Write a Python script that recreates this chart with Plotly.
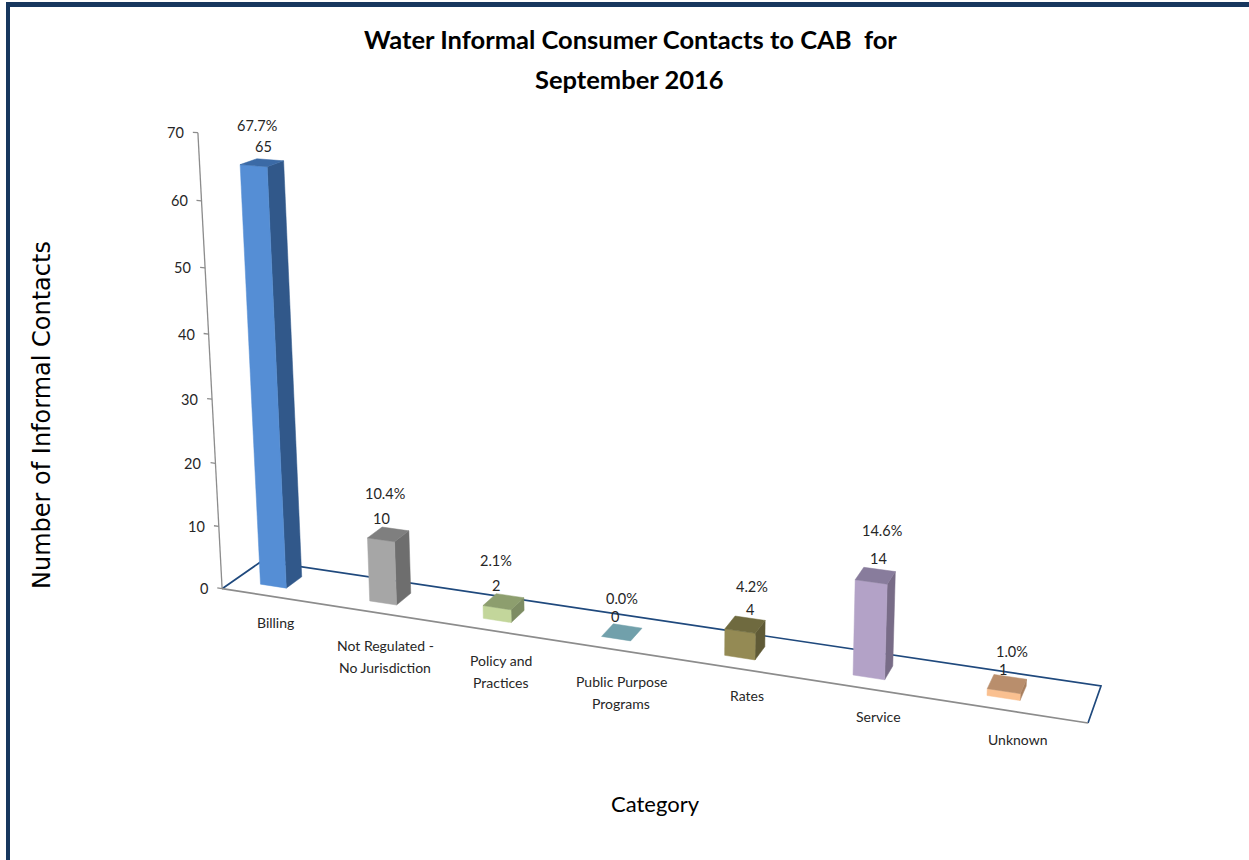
import numpy as np
import plotly.graph_objects as go

# ---- data ----
categories = ["Billing", "Not Regulated -<br>No Jurisdiction", "Policy and<br>Practices",
              "Public Purpose<br>Programs", "Rates", "Service", "Unknown"]
contacts = [65, 10, 2, 0, 4, 14, 1]
percent_labels = ["67.7%", "10.4%", "2.1%", "0.0%", "4.2%", "14.6%", "1.0%"]
y_ticks = [0, 10, 20, 30, 40, 50, 60, 70]

# ---- styling ----
front_colors = ["#558ed5", "#a6a6a6", "#c3d69b", "#71a0ab", "#948a54", "#b3a2c7", "#fac090"]
side_colors = ["#31588a", "#6e6e6e", "#7d8c63", "#71a0ab", "#5f5a36", "#786c87", "#a87f5f"]
top_colors = ["#3b6aa6", "#7f7f7f", "#8d9e6e", "#71a0ab", "#6f6a3f", "#887c9c", "#b98e6c"]
NAVY = "#1f497d"
FRAME = "#17375e"
GRAY = "#8c8c8c"
TXT = "#262626"
FONT = "Lato"

# ---- camera: (category position, depth, value) -> picture, solved from the chart box ----
calib_world = [(0, 0, 0), (7, 0, 0), (7, 1, 0), (0, 1, 0), (0, 0, 10), (0, 0, 20), (0, 0, 30),
               (0, 0, 40), (0, 0, 50), (0, 0, 60), (0, 0, 70)]
calib_view = [(222, 588), (1088, 723), (1101, 686), (262, 561), (219, 527), (215.5, 464), (212, 399),
              (208.5, 334), (205, 267), (201.5, 201), (198, 133)]


def solve_camera():
    rows = []
    for (u, d, h), (px, py) in zip(calib_world, calib_view):
        w = [u / 7, d, h / 70, 1]
        sx, sy = px / 1000, py / 1000
        rows.append(w + [0, 0, 0, 0] + [-sx * c for c in w])
        rows.append([0, 0, 0, 0] + w + [-sy * c for c in w])
    return np.linalg.svd(np.array(rows))[2][-1].reshape(3, 4)


CAM = solve_camera()


def project(u, d, h):
    a, b, c = CAM @ np.array([u / 7, d, h / 70, 1.0])
    return 1000 * a / c, 1000 * b / c


CENTER = 0.365
HALF = 0.12
D0, D1 = 0.30, 0.70

fig = go.Figure()


def poly(points, color):
    xy = [project(*p) for p in points + points[:1]]
    fig.add_trace(go.Scatter(x=[q[0] for q in xy], y=[q[1] for q in xy], mode="lines", fill="toself",
                             fillcolor=color, line=dict(color=color, width=0.5), hoverinfo="skip",
                             showlegend=False))


def line(points, color, width):
    xy = [project(*p) for p in points]
    fig.add_trace(go.Scatter(x=[q[0] for q in xy], y=[q[1] for q in xy], mode="lines",
                             line=dict(color=color, width=width), hoverinfo="skip", showlegend=False))


# chart box
line([(0, 0, 0), (0, 1, 0), (7, 1, 0), (7, 0, 0)], NAVY, 1.7)
line([(0, 0, 0), (7, 0, 0)], GRAY, 1.7)
line([(0, 0, 0), (0, 0, 70)], GRAY, 1.3)
for t in y_ticks:
    line([(-0.045, 0, t), (0, 0, t)], GRAY, 1.3)

# bars
for i, v in enumerate(contacts):
    u0, u1 = i + CENTER - HALF, i + CENTER + HALF
    if v > 0:
        poly([(u1, D0, 0), (u1, D1, 0), (u1, D1, v), (u1, D0, v)], side_colors[i])
        poly([(u0, D0, 0), (u1, D0, 0), (u1, D0, v), (u0, D0, v)], front_colors[i])
    poly([(u0, D0, v), (u1, D0, v), (u1, D1, v), (u0, D1, v)], top_colors[i])

# ---- text placement (picture positions) ----
percent_pos = [(257, 125), (385, 493), (496, 560), (622, 598), (752, 586), (882, 530), (1012, 651)]
value_pos = [(263, 146), (381, 518), (496, 585), (615, 616), (750, 609), (878, 558), (1003, 669)]
category_pos = [(275, 622), (385, 656), (501, 671), (621, 692), (747, 695), (878, 716), (1017, 739)]
LINE_GAP = 22

anns = []


def label(x, y, text, size=14, color=TXT, family=FONT, **kw):
    anns.append(dict(x=x, y=y, xref="x", yref="y", text=text, showarrow=False,
                     font=dict(family=family, size=size, color=color), **kw))


for i in range(len(categories)):
    label(*percent_pos[i], percent_labels[i], size=14.5)
    label(*value_pos[i], str(contacts[i]), size=14.5)
    parts = categories[i].split("<br>")
    cx, cy = category_pos[i]
    for k, part in enumerate(parts):
        label(cx, cy + (k - (len(parts) - 1) / 2) * LINE_GAP, part)
for t in y_ticks:
    px, py = project(0, 0, t)
    label(px, py, str(t), size=14.5, xanchor="right", xshift=-12)

label(630, 39, "<b>Water Informal Consumer Contacts to CAB  for</b>", size=25.5, color="#000000")
label(629, 79, "<b>September 2016</b>", size=25.5, color="#000000")
label(655, 803, "Category", size=22, color="#000000")
label(42, 415, "Number of Informal Contacts", size=24, color="#000000", family="DejaVu Sans", textangle=-90)

fig.update_layout(
    width=1249, height=860, margin=dict(l=0, r=0, t=0, b=0), paper_bgcolor="white", plot_bgcolor="white",
    xaxis=dict(range=[0, 1249], visible=False, fixedrange=True),
    yaxis=dict(range=[860, 0], visible=False, fixedrange=True),
    annotations=anns,
    shapes=[
        dict(type="rect", xref="x", yref="y", x0=6, x1=1249, y0=2, y1=7, fillcolor=FRAME, line_width=0, layer="below"),
        dict(type="rect", xref="x", yref="y", x0=6, x1=10, y0=2, y1=860, fillcolor=FRAME, line_width=0, layer="below"),
    ],
)
fig.write_html("out.html", config=dict(displayModeBar=False),
               post_script="document.body.style.margin='0';window.dispatchEvent(new Event('resize'));")
